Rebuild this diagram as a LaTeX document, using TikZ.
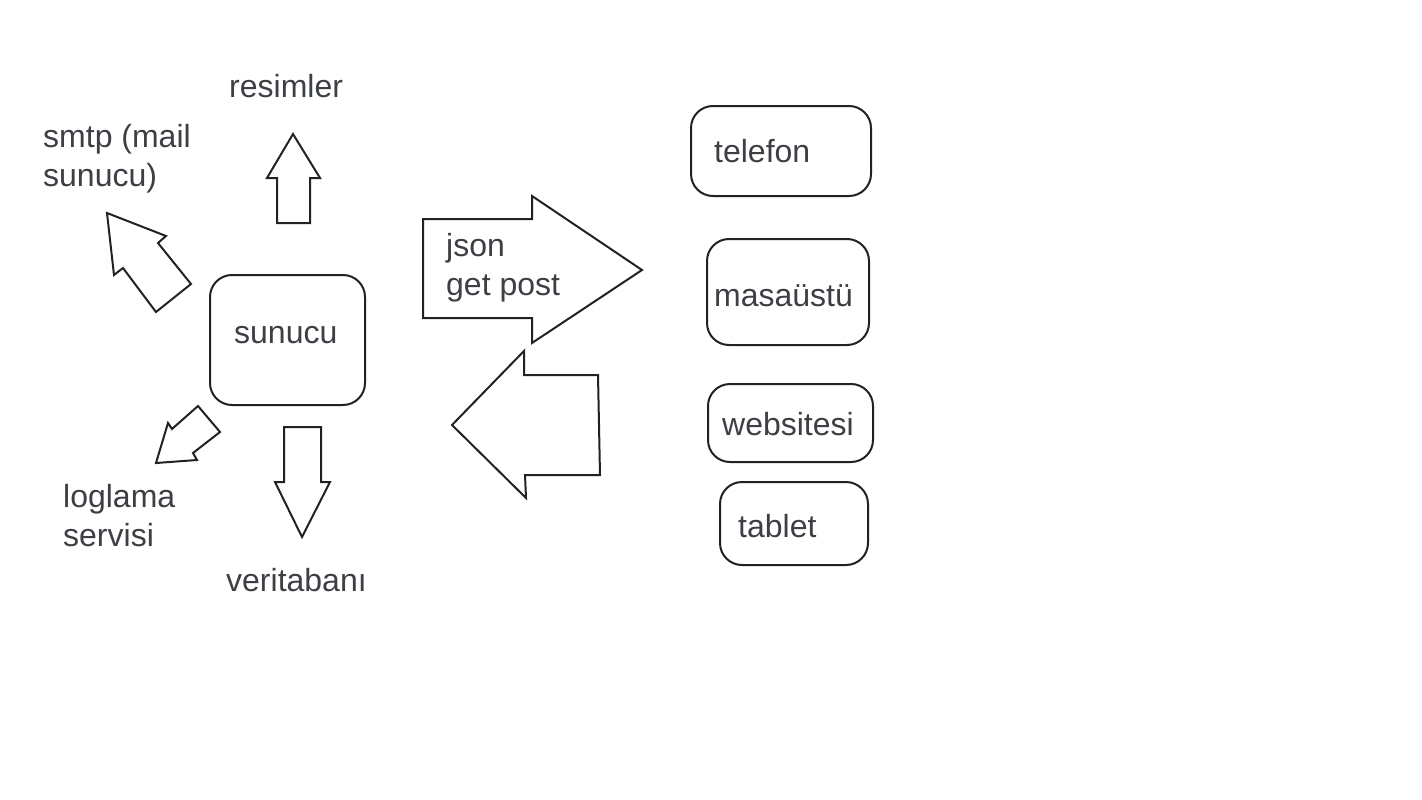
\documentclass[tikz,border=0pt]{standalone}
\usepackage{fontspec}
\setmainfont{Liberation Sans}
\definecolor{linec}{HTML}{222222}
\definecolor{txtc}{HTML}{3C3F44}
\begin{document}
\begin{tikzpicture}[x=1pt,y=-1pt,
  ln/.style={draw=linec, line width=2pt, line join=miter},
  dev/.style={ln, rounded corners=22pt, inner sep=0pt, minimum width=#1},
  lbl/.style={anchor=base west, inner sep=0pt, text=txtc, font=\fontsize{32}{39}\selectfont, align=left}]
\useasboundingbox (0,0) rectangle (1422,800);

% central server box
\node[dev=155pt, minimum height=130pt] (sunucu) at (287.5,340) {};
\node[lbl] (sunucuT) at (234,343) {sunucu};

% surrounding labels (base anchor = baseline of last line)
\node[lbl] (resimler) at (229,97) {resimler};
\node[lbl] (smtp) at (43,186) {smtp (mail\\sunucu)};
\node[lbl] (log) at (63,546) {loglama\\servisi};
\node[lbl] (db) at (226,591) {veritabanı};

% block arrows around the server
\draw[ln] (293,134) -- (320,178) -- (310,178) -- (310,223) -- (277,223) -- (277,178) -- (267,178) -- cycle;
\draw[ln] (107,213) -- (166,236) -- (158,243) -- (191,284) -- (156,312) -- (123,268) -- (114,275) -- cycle;
\draw[ln] (156,463) -- (168,423) -- (172,429) -- (198,406) -- (220,432) -- (193,453) -- (197,460) -- cycle;
\draw[ln] (284,427) -- (321,427) -- (321,482) -- (330,482) -- (302,537) -- (275,482) -- (284,482) -- cycle;

% request / response arrows
\draw[ln] (423,219) -- (532,219) -- (532,196) -- (642,270) -- (532,343) -- (532,318) -- (423,318) -- cycle;
\node[lbl] (json) at (446,295) {json\\get post};
\draw[ln] (452,425) -- (524,351) -- (524,375) -- (598,375) -- (600,475) -- (525,475) -- (526,498) -- cycle;

% client devices
\node[dev=180pt, minimum height=90pt] (tel) at (781,151) {};
\node[lbl] (telT) at (714,162) {telefon};
\node[dev=162pt, minimum height=106pt] (mas) at (788,292) {};
\node[lbl] (masT) at (714,306) {masaüstü};
\node[dev=165pt, minimum height=78pt] (web) at (790.5,423) {};
\node[lbl] (webT) at (722,435) {websitesi};
\node[dev=148pt, minimum height=83pt] (tab) at (794,523.5) {};
\node[lbl] (tabT) at (738,537) {tablet};
\end{tikzpicture}
\end{document}
